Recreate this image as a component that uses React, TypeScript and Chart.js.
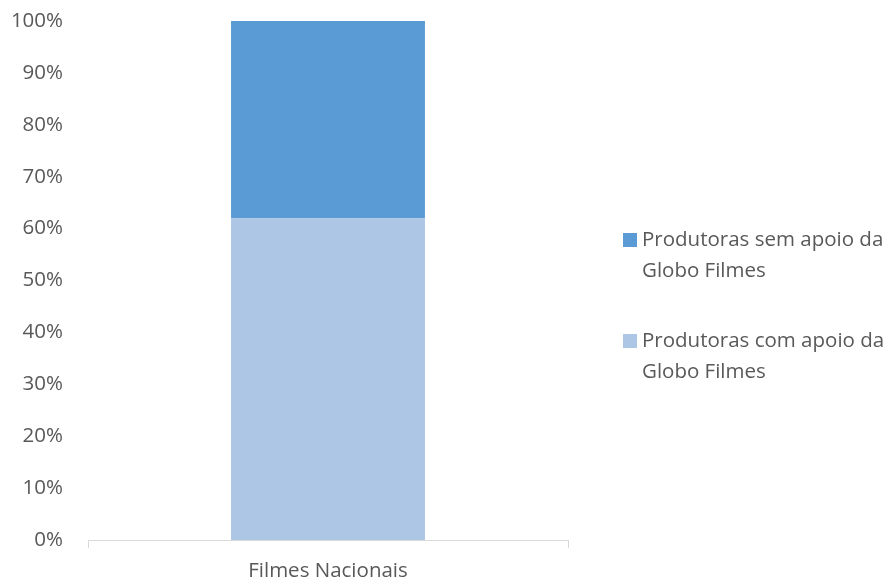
import React, { useEffect, useRef } from "react";
import { Chart, registerables } from "chart.js";

Chart.register(...registerables);

const categories = ["Filmes Nacionais"];
const comApoioLabel = ["Produtoras com apoio da", "Globo Filmes"];
const semApoioLabel = ["Produtoras sem apoio da", "Globo Filmes"];
const comApoio = [62];
const semApoio = [38];
const yTicks = [0, 10, 20, 30, 40, 50, 60, 70, 80, 90, 100];

const FONT = "'Open Sans', 'Liberation Sans', sans-serif";
const TEXT = "#595959";
const SIZE = 20.5;

// Legend drawn to the right of the plot, with wrapped two-line labels
const sideLegend = {
  id: "sideLegend",
  afterDraw(chart: any) {
    const ctx = chart.ctx;
    const items = chart.data.datasets
      .map((ds: any) => ({ lines: ds.legendLines, color: ds.backgroundColor }))
      .reverse();
    const boxX = 623;
    const textX = 642;
    const box = 14;
    const lineH = 31;
    const itemGap = 101;
    const firstTop = 233;
    ctx.save();
    ctx.font = `${SIZE}px ${FONT}`;
    ctx.textBaseline = "middle";
    ctx.textAlign = "left";
    items.forEach((it: any, i: number) => {
      const top = firstTop + i * itemGap;
      ctx.fillStyle = it.color;
      ctx.fillRect(boxX, top, box, box);
      ctx.fillStyle = TEXT;
      it.lines.forEach((ln: string, j: number) => {
        ctx.fillText(ln, textX, top + box / 2 + j * lineH);
      });
    });
    ctx.restore();
  },
};

export default function App() {
  const ref = useRef<HTMLCanvasElement>(null);
  useEffect(() => {
    document.body.style.margin = "0";
    const chart = new Chart(ref.current!, {
      type: "bar",
      data: {
        labels: categories,
        datasets: [
          {
            label: comApoioLabel.join(" "),
            legendLines: comApoioLabel,
            data: comApoio,
            backgroundColor: "#adc6e6",
            categoryPercentage: 1,
            barPercentage: 0.404,
          } as any,
          {
            label: semApoioLabel.join(" "),
            legendLines: semApoioLabel,
            data: semApoio,
            backgroundColor: "#5b9bd5",
            categoryPercentage: 1,
            barPercentage: 0.404,
          } as any,
        ],
      },
      options: {
        animation: false,
        responsive: false,
        layout: { padding: { top: 21, right: 321, bottom: 0, left: 0 } },
        plugins: { legend: { display: false }, tooltip: { enabled: false } },
        scales: {
          x: {
            stacked: true,
            grid: {
              display: true,
              drawOnChartArea: false,
              drawTicks: true,
              tickLength: 8,
              color: "#d9d9d9",
              offset: true,
            },
            border: { display: true, color: "#d9d9d9" },
            ticks: { color: TEXT, font: { family: FONT, size: SIZE }, padding: 11 },
            afterFit: (s: any) => {
              s.height = 43;
              s.paddingLeft = 0;
              s.paddingRight = 0;
            },
          },
          y: {
            stacked: true,
            min: 0,
            max: 100,
            grid: { display: false, drawTicks: false },
            border: { display: false },
            afterBuildTicks: (s: any) => {
              s.ticks = yTicks.map((v) => ({ value: v }));
            },
            ticks: {
              color: TEXT,
              font: { family: FONT, size: SIZE },
              padding: 25,
              callback: (v: any) => `${v}%`,
            },
            afterFit: (s: any) => {
              s.width = 88;
              s.paddingTop = 0;
              s.paddingBottom = 0;
            },
          },
        },
      },
      plugins: [sideLegend],
    });
    return () => chart.destroy();
  }, []);
  return (
    <div style={{ position: "absolute", left: 0, top: 0, width: 889, height: 583 }}>
      <canvas ref={ref} width={889} height={583} />
    </div>
  );
}
